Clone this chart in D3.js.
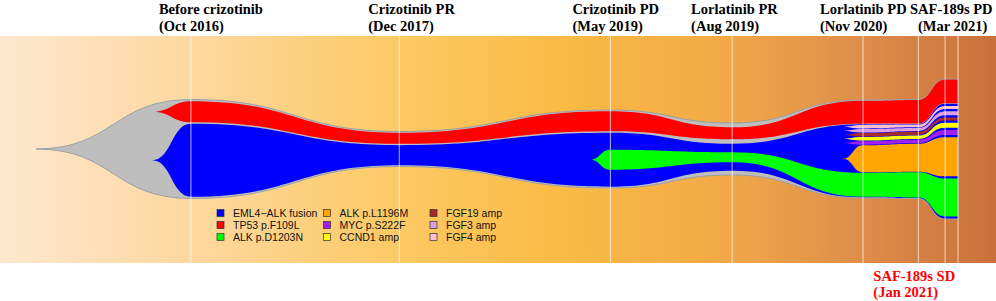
<!DOCTYPE html>
<html>
<head>
<meta charset="utf-8">
<script src="https://cdn.jsdelivr.net/npm/d3@7"></script>
<style>
  body { margin: 0; background: #fff; }
  svg { display: block; }
</style>
</head>
<body>
<div id="chart"></div>
<script>
// sample positions along the fish (relative units)
const timepoints = [16.8, 39.4, 62.3, 75.5, 89.7, 95.7, 98.6, 100];

const stageLabels = ["Before crizotinib", "Crizotinib PR", "Crizotinib PD", "Lorlatinib PR", "Lorlatinib PD", "SAF-189s PD"];
const dateLabels = ["(Oct 2016)", "(Dec 2017)", "(May 2019)", "(Aug 2019)", "(Nov 2020)", "(Mar 2021)"];
const labelTimes = [16.8, 39.4, 62.3, 75.5, 89.7, 100];
const sdLabel = ["SAF-189s SD", "(Jan 2021)"];
const sdTime = 95.7;

const cloneNames = ["founder", "EML4\u2212ALK fusion", "TP53 p.F109L", "ALK p.D1203N", "ALK p.L1196M",
                    "MYC p.S222F", "CCND1 amp", "FGF19 amp", "FGF3 amp", "FGF4 amp"];
const cloneColors = ["#bebebe", "#0000ff", "#ff0000", "#00ff00", "#ffa500",
                     "#a020f0", "#ffff00", "#a52a2a", "#dda0dd", "#ffc0cb"];
const parents = [-1, 0, 0, 1, 1, 1, 1, 1, 1, 1];
const emergeTimes = [0, 12.6, 12.6, 60.1, 87.5, 87.2, 87.2, 87.2, 87.2, 87.2];
// top-to-bottom order of siblings
const stackOrder = [0, 2, 1, 9, 8, 7, 6, 5, 4, 3];

// cell fraction (%) at each timepoint, descendants included
const founderFrac = [70.7, 25.0, 55.7, 37.1, 70.0, 70.7, 100, 100];
const eml4Frac    = [52.1, 14.3, 38.6, 19.3, 52.1, 53.0, 82.0, 82.0];
const tp53Frac    = [15.0, 7.9, 14.3, 8.6, 16.4, 16.9, 17.1, 17.1];
const d1203nFrac  = [0, 0, 14.3, 7.1, 17.1, 17.9, 27.0, 27.0];
const l1196mFrac  = [0, 0, 0, 0, 19.3, 20.0, 28.0, 28.0];
const mycFrac     = [0, 0, 0, 0, 2.5, 2.4, 3.6, 3.6];
const ccnd1Frac   = [0, 0, 0, 0, 2.5, 2.4, 3.6, 3.6];
const fgf19Frac   = [0, 0, 0, 0, 2.5, 2.4, 2.2, 2.2];
const fgf3Frac    = [0, 0, 0, 0, 2.5, 2.1, 2.9, 2.9];
const fgf4Frac    = [0, 0, 0, 0, 2.5, 1.9, 2.1, 2.1];

const fracs = [founderFrac, eml4Frac, tp53Frac, d1203nFrac, l1196mFrac,
               mycFrac, ccnd1Frac, fgf19Frac, fgf3Frac, fgf4Frac];

let width = 996,
    height = 301,
    bg = ({ top: 36, bottom: 263 });

const svg = d3.select("#chart")
    .append("svg")
    .attr("width", width)
    .attr("height", height);

const x = d3.scaleLinear().domain([0, 100]).range([36, 958]);
const y = d3.scaleLinear().domain([-50, 50]).range([79, 219]);

// background gradient
const grad = svg.append("defs").append("linearGradient")
    .attr("id", "bg").attr("x1", 0).attr("x2", 1).attr("y1", 0).attr("y2", 0);
[[0, "#fde7cf"], [0.18, "#fdd9a2"], [0.4, "#fcc964"], [0.56, "#fbbb45"],
 [0.72, "#f2aa47"], [0.87, "#dd8c4a"], [1, "#c8703a"]]
  .forEach(s => grad.append("stop").attr("offset", s[0]).attr("stop-color", s[1]));

svg.append("rect")
    .attr("x", 0).attr("y", bg.top)
    .attr("width", width).attr("height", bg.bottom - bg.top)
    .attr("fill", "url(#bg)");

// nested layout, fishplot style: parent's own share split into equal gaps
const bands = fracs.map(() => []);
function place(i, top, j) {
    const f = fracs[i][j];
    bands[i][j] = [top, top + f];
    const kids = stackOrder.filter(k => parents[k] === i && fracs[k][j] > 0);
    const gap = (f - d3.sum(kids, k => fracs[k][j])) / (kids.length + 1);
    let pos = top + gap;
    kids.forEach(k => { place(k, pos, j); pos += fracs[k][j] + gap; });
}
timepoints.forEach((t, j) => place(0, -founderFrac[j] / 2, j));

const area = d3.area()
    .x(d => x(d.t))
    .y0(d => y(d.y0))
    .y1(d => y(d.y1))
    .curve(d3.curveBumpX);

fracs.forEach((f, i) => {
    const pts = [];
    timepoints.forEach((t, j) => {
        if (f[j] > 0) pts.push({ t: t, y0: bands[i][j][0], y1: bands[i][j][1] });
    });
    const c = (pts[0].y0 + pts[0].y1) / 2;
    pts.unshift({ t: emergeTimes[i], y0: c, y1: c });
    svg.append("path")
        .attr("d", area(pts))
        .attr("fill", cloneColors[i])
        .attr("stroke", i === 0 ? "#9aa0a8" : "none")
        .attr("stroke-width", i === 0 ? 1 : 0);
});

// sample lines
svg.append("g")
    .selectAll("line")
    .data(timepoints)
    .join("line")
    .attr("x1", d => x(d)).attr("x2", d => x(d))
    .attr("y1", bg.top).attr("y2", bg.bottom)
    .attr("stroke", "#fff")
    .attr("stroke-opacity", 0.7)
    .attr("stroke-width", 1);

// stage labels
const labelShift = [-32, -31, -38, -41, -43, -48];
const dateShift = [-32, -31, -38, -41, -43, -40];
const heads = svg.append("g")
    .attr("font-family", "'Liberation Serif', 'Times New Roman', serif")
    .attr("font-weight", "bold")
    .attr("font-size", 14.5)
    .attr("fill", "#000");
stageLabels.forEach((s, i) => {
    heads.append("text").attr("x", x(labelTimes[i]) + labelShift[i]).attr("y", 14).text(s);
    heads.append("text").attr("x", x(labelTimes[i]) + dateShift[i]).attr("y", 30.5).text(dateLabels[i]);
});
sdLabel.forEach((s, i) => {
    heads.append("text")
        .attr("x", x(sdTime) - 45).attr("y", 281 + i * 15.5)
        .attr("fill", "#ff0000")
        .text(s);
});

// legend
const legend = svg.append("g")
    .attr("font-family", "'Liberation Sans', Arial, sans-serif")
    .attr("font-size", 10.5)
    .attr("fill", "#111");
const legendItems = [1, 2, 3, 4, 5, 6, 7, 8, 9];
legendItems.forEach((c, k) => {
    const col = Math.floor(k / 3), row = k % 3;
    const lx = 217 + col * 106.5, ly = 213 + row * 12;
    legend.append("rect")
        .attr("x", lx).attr("y", ly - 3.5)
        .attr("width", 7).attr("height", 7)
        .attr("fill", cloneColors[c])
        .attr("stroke", "#333").attr("stroke-width", 0.7);
    legend.append("text")
        .attr("x", lx + 16).attr("y", ly + 3.8)
        .text(cloneNames[c]);
});
</script>
</body>
</html>
